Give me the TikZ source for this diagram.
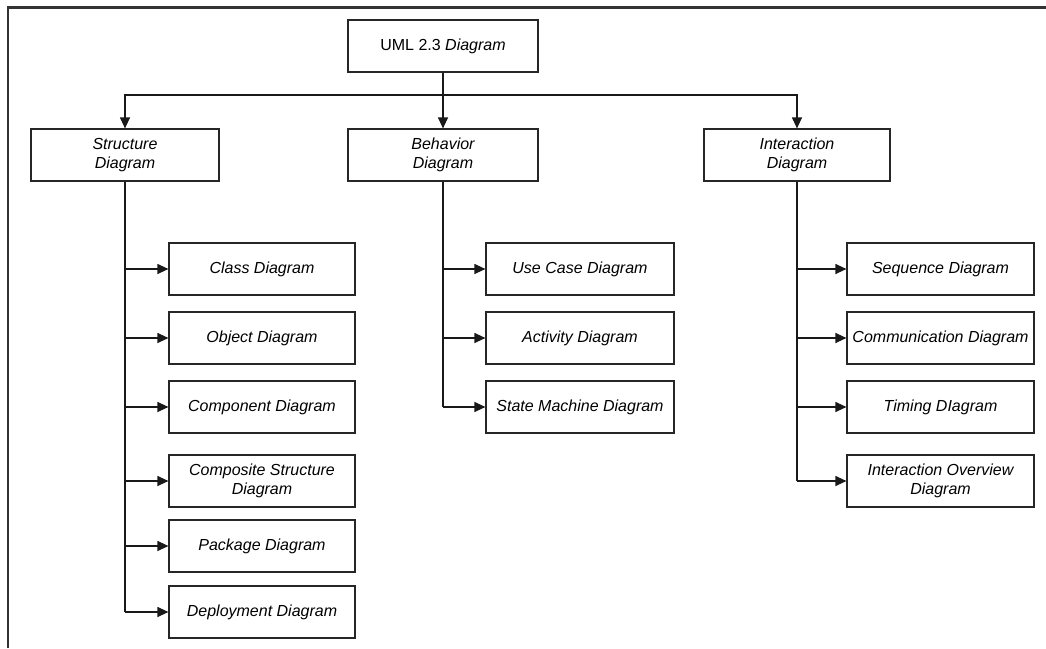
\documentclass[tikz,border=0pt]{standalone}
\usepackage{fontspec}
\setmainfont{Liberation Sans}
\usetikzlibrary{arrows.meta}
\begin{document}
\begin{tikzpicture}[x=1pt,y=-1pt,
  box/.style={draw=black!85,line width=1.2pt,minimum width=#1,minimum height=52pt,inner sep=1pt,align=center,font=\fontsize{16}{19}\selectfont\itshape},
  box/.default=187pt,
  conn/.style={draw=black!90,line width=1.2pt},
  arr/.style={conn,-{Triangle[length=11pt,width=10pt]}}]
\useasboundingbox (0,0) rectangle (1046,648);
\draw[line width=2.4pt,draw=black!80] (8,648) -- (8,7.5) -- (1046,7.5);
% top
\node[box=190pt] (uml) at (443,46) {\upshape UML 2.3 \itshape Diagram};
\node[box=188pt] (str) at (125,155) {Structure\\Diagram};
\node[box=190pt] (beh) at (443,155) {Behavior\\Diagram};
\node[box=186pt] (int) at (797,155) {Interaction\\Diagram};
\coordinate (bus) at (443,95);
\draw[conn] (uml.south) -- (bus);
\draw[arr] (bus) -| (str.north);
\draw[arr] (bus) -| (int.north);
\draw[arr] (bus) -- (beh.north);
% structure children
\node[box=186pt] (s1) at (262,269) {Class Diagram};
\node[box=186pt] (s2) at (262,338) {Object Diagram};
\node[box=186pt] (s3) at (262,407) {Component Diagram};
\node[box=186pt] (s4) at (262,481) {Composite Structure\\Diagram};
\node[box=186pt] (s5) at (262,546) {Package Diagram};
\node[box=186pt] (s6) at (262,612) {Deployment Diagram};
\coordinate (sb) at (str.south |- s6.west);
\draw[conn] (str.south) -- (sb);
\foreach \n in {s1,s2,s3,s4,s5,s6} \draw[arr] (str.south |- \n.west) -- (\n.west);
% behavior children
\node[box=188pt] (b1) at (580,269) {Use Case Diagram};
\node[box=188pt] (b2) at (580,338) {Activity Diagram};
\node[box=188pt] (b3) at (580,407) {State Machine Diagram};
\coordinate (bb) at (beh.south |- b3.west);
\draw[conn] (beh.south) -- (bb);
\foreach \n in {b1,b2,b3} \draw[arr] (beh.south |- \n.west) -- (\n.west);
% interaction children
\node[box=187pt] (i1) at (940.5,269) {Sequence Diagram};
\node[box=187pt] (i2) at (940.5,338) {Communication Diagram};
\node[box=187pt] (i3) at (940.5,407) {Timing DIagram};
\node[box=187pt] (i4) at (940.5,481) {Interaction Overview\\Diagram};
\coordinate (ib) at (int.south |- i4.west);
\draw[conn] (int.south) -- (ib);
\foreach \n in {i1,i2,i3,i4} \draw[arr] (int.south |- \n.west) -- (\n.west);
\end{tikzpicture}
\end{document}
